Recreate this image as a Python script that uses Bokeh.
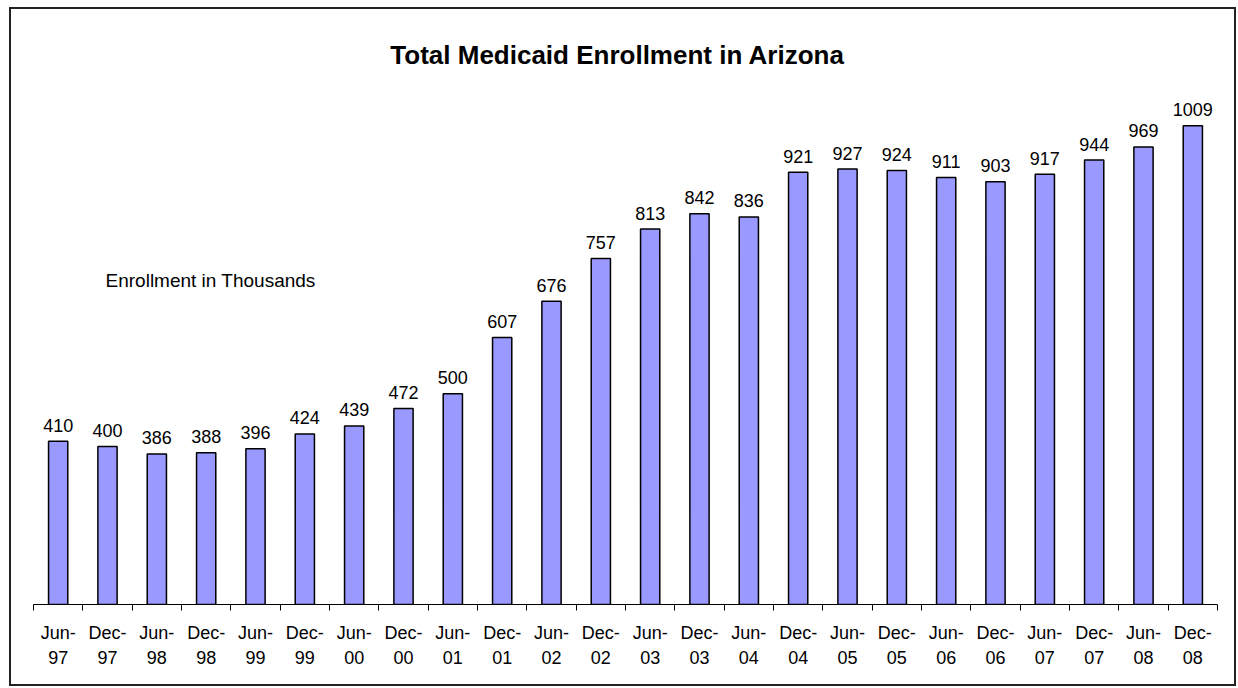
from bokeh.plotting import figure
from bokeh.models import FixedTicker, ColumnDataSource, Range1d, InlineStyleSheet
from bokeh.core.properties import value
from bokeh.embed import file_html
from bokeh.resources import INLINE

categories = ["Jun-97", "Dec-97", "Jun-98", "Dec-98", "Jun-99", "Dec-99", "Jun-00", "Dec-00",
              "Jun-01", "Dec-01", "Jun-02", "Dec-02", "Jun-03", "Dec-03", "Jun-04", "Dec-04",
              "Jun-05", "Dec-05", "Jun-06", "Dec-06", "Jun-07", "Dec-07", "Jun-08", "Dec-08"]
enrollment = [410, 400, 386, 388, 396, 424, 439, 472, 500, 607, 676, 757, 813, 842, 836, 921,
              927, 924, 911, 903, 917, 944, 969, 1009]
title_text = "Total Medicaid Enrollment in Arizona"
note_text = "Enrollment in Thousands"

FONT = "Liberation Sans"
n = len(categories)
xs = list(range(n))

src = ColumnDataSource(dict(x=xs, top=enrollment, lab=[str(v) for v in enrollment]))

p = figure(width=1238, height=688, output_backend="svg", toolbar_location=None,
           x_range=Range1d(-0.5, n - 0.5), y_range=Range1d(100, 1209),
           min_border_left=33, min_border_right=21, min_border_top=20, min_border_bottom=84)
p.stylesheets = [InlineStyleSheet(css="""
:host { position: relative; }
:host::after {
  content: "";
  position: absolute;
  left: 9px; top: 7px; width: 1227px; height: 679px;
  border: 2px solid #222;
  box-sizing: border-box;
  pointer-events: none;
  z-index: 100;
}
""")]
p.outline_line_color = None
p.background_fill_color = "white"
p.border_fill_color = "white"
p.grid.visible = False
p.yaxis.visible = False

p.vbar(x="x", top="top", bottom=100, width=0.39, source=src,
       fill_color="#9999FF", line_color="black", line_width=1.5)
p.text(x="x", y="top", text="lab", source=src, text_align="center", text_baseline="alphabetic",
       y_offset=-16, text_font=value(FONT), text_font_size="18px", text_color="black")

p.text(x=[(n - 1) / 2 - 0.16], y=[1143], text=[title_text], text_align="center",
       text_baseline="alphabetic", text_font=value(FONT), text_font_size="26px",
       text_font_style="bold", text_color="black")
p.text(x=[0.96], y=[715], text=[note_text], text_align="left", text_baseline="middle",
       text_font=value(FONT), text_font_size="19px", text_color="black")

ax = p.xaxis[0]
ax.ticker = FixedTicker(ticks=xs, minor_ticks=[i - 0.5 for i in range(n + 1)])
ax.major_label_overrides = {i: c.replace("-", "-\n") for i, c in enumerate(categories)}
ax.major_tick_out = 0
ax.major_tick_in = 0
ax.minor_tick_out = 6
ax.minor_tick_in = 0
ax.minor_tick_line_color = "black"
ax.axis_line_color = "black"
ax.axis_line_width = 1
ax.major_label_standoff = 12
ax.major_label_text_font = FONT
ax.major_label_text_font_size = "18px"
ax.major_label_text_line_height = 1.25
ax.major_label_text_color = "black"

open("out.html", "w").write(file_html(p, INLINE))
